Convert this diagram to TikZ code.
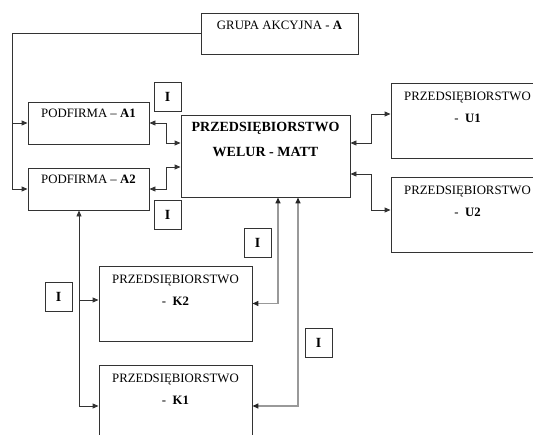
\documentclass[tikz,border=0pt]{standalone}
\usepackage{fontspec}
\setmainfont{Liberation Serif}
\usetikzlibrary{arrows.meta}

\begin{document}
\begin{tikzpicture}[x=1pt, y=-1pt,
  >={Triangle[length=6pt,width=5pt]},
  firm/.style={draw=black!80, line width=0.9pt, rectangle, align=center, inner sep=0pt,
    font=\fontsize{12.8}{15}\selectfont},
  unit/.style={firm, minimum width=153pt, minimum height=75pt},
  sub/.style={firm, minimum width=121pt, minimum height=42pt},
  ibox/.style={firm, minimum width=27pt, minimum height=29pt, font=\fontsize{14}{16}\selectfont\bfseries},
  link/.style={black!80, line width=0.9pt},
  glink/.style={black!40, line width=1.4pt,
    {Triangle[length=6pt,width=5pt,color=black!85]}-{Triangle[length=6pt,width=5pt,color=black!85]}}]
\useasboundingbox (0,0) rectangle (533,434);

% Holding
\node[firm, minimum width=157pt, minimum height=41pt] (grupa) at (279.5,33.5)
  {GRUPA AKCYJNA - \textbf{A}\\[2pt]\mbox{}};

% Subsidiaries
\node[sub] (a1) at (88.5,123) {PODFIRMA – \textbf{A1}\\[5pt]\mbox{}};
\node[sub] (a2) at (88.5,189) {PODFIRMA – \textbf{A2}\\[5pt]\mbox{}};

% Main firm
\node[firm, minimum width=169pt, minimum height=82pt, font=\fontsize{14}{17}\selectfont\bfseries] (welur) at (265.5,156)
  {PRZEDSIĘBIORSTWO\\[8pt]WELUR - MATT\\[16pt]\mbox{}};

% Other firms
\node[unit] (u1) at (467.5,120.5) {PRZEDSIĘBIORSTWO\\[7pt]-\ \ \textbf{U1}\\[12pt]\mbox{}};
\node[unit] (u2) at (467.5,214.5) {PRZEDSIĘBIORSTWO\\[7pt]-\ \ \textbf{U2}\\[12pt]\mbox{}};
\node[unit] (k2) at (175.5,303.5) {PRZEDSIĘBIORSTWO\\[7pt]-\ \ \textbf{K2}\\[12pt]\mbox{}};
\node[unit] (k1) at (175.5,402.5) {PRZEDSIĘBIORSTWO\\[7pt]-\ \ \textbf{K1}\\[12pt]\mbox{}};

% I markers
\node[ibox] (i1) at (167.5,97) {I};
\node[ibox] (i2) at (167.5,214.5) {I};
\node[ibox] (i3) at (257.5,243) {I};
\node[ibox] (i4) at (58.5,297) {I};
\node[ibox] (i5) at (318.5,343) {I};

% Holding links
\coordinate (hub) at (12.5,33.5);
\draw[link, ->] (grupa.west) -- (hub) |- (a1.west);
\draw[link, ->] (hub) |- (a2.west);

% Links to the main firm
\draw[link, <->] (a1.east) -- ++(16.5,0) |- ([yshift=13pt]welur.west);
\draw[link, <->] (a2.east) -- ++(16.5,0) |- ([yshift=-11pt]welur.west);
\draw[link, <->] ([yshift=13pt]welur.east) -- ++(21,0) |- ([yshift=6.5pt]u1.west);
\draw[link, <->] ([yshift=-18pt]welur.east) -- ++(21,0) |- ([yshift=4.5pt]u2.west);

% Links below the subsidiary
\coordinate (drop) at ([xshift=-9.5pt]a2.south);
\coordinate (k2in) at ([yshift=3.5pt]k2.west);
\draw[link, <->] (drop) |- ([yshift=-3.5pt]k1.west);
\draw[link, ->] (drop |- k2in) -- (k2in);

% Grey links
\draw[glink] ([xshift=12.5pt]welur.south) |- (k2.east);
\draw[glink] ([xshift=32.5pt]welur.south) |- ([yshift=-3.5pt]k1.east);
\end{tikzpicture}
\end{document}
